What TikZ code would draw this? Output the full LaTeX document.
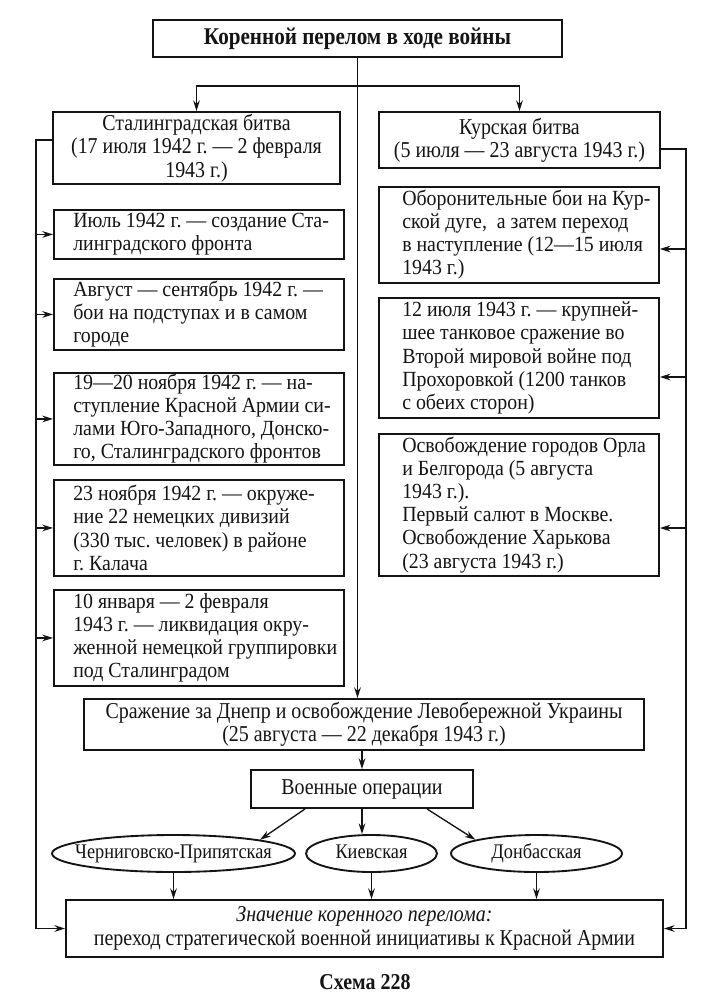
\documentclass[tikz,border=0pt]{standalone}
\usepackage{fontspec}
\setmainfont{Liberation Serif}[FakeStretch=0.88]
\newfontfamily\boxfont{Liberation Serif}[FakeStretch=0.92]
\usetikzlibrary{arrows.meta,shapes.geometric}
\frenchspacing

\def\U{0.75pt}
\definecolor{fgcolor}{gray}{0.08}
\definecolor{bgcolor}{gray}{1}

\tikzset{
  evtext/.style={text=fgcolor,inner sep=0pt,font=\boxfont\fontsize{16.2}{17.3}\selectfont},
  bigtext/.style={text=fgcolor,inner sep=0pt,font=\fontsize{17}{17.5}\selectfont},
  frame/.style={draw=fgcolor,line width=1.4pt,inner sep=0pt},
  evbox/.style={bigtext,frame,align=center},
  leftbox/.style={frame,anchor=north west,minimum width=290*\U},
  rightbox/.style={frame,anchor=north west,minimum width=280*\U},
  boxtext/.style={evtext,align=left,anchor=west},
  opbox/.style={frame,ellipse,minimum height=37*\U,
    label={[bigtext,font=\fontsize{15.6}{16}\selectfont,text height=11pt,text depth=3pt]center:#1}},
  arr/.style={draw=fgcolor,line width=1pt,-{Stealth[length=8pt,width=5pt]}}
}

\begin{document}
\begin{tikzpicture}[x=\U,y=-\U]
\fill[bgcolor] (0,0) rectangle (716,997);

\node[evbox,minimum width=409*\U,minimum height=37*\U,
  font=\fontsize{18}{18}\selectfont\bfseries] (title) at (357.5,38.5) {Коренной перелом в ходе войны};

\node[evbox,minimum width=287*\U,minimum height=72*\U] (stal) at (196.5,148)
  {Сталинградская битва\\(17 июля 1942 г. — 2 февраля\\1943 г.)};
\node[evbox,minimum width=281*\U,minimum height=56*\U] (kursk) at (519.5,140)
  {Курская битва\\(5 июля — 23 августа 1943 г.)};

% Stalingrad column
\node[leftbox,minimum height=49*\U] (s1) at (53,209) {};
\node[leftbox,minimum height=71*\U] (s2) at (53,278) {};
\node[leftbox,minimum height=92*\U] (s3) at (53,372) {};
\node[leftbox,minimum height=96*\U] (s4) at (53,479) {};
\node[leftbox,minimum height=96*\U] (s5) at (53,589) {};
\node[boxtext] (s1t) at ([xshift=20*\U]s1.west)
  {Июль 1942 г. — создание Ста-\\линградского фронта};
\node[boxtext] (s2t) at ([xshift=20*\U]s2.west)
  {Август — сентябрь 1942 г. —\\бои на подступах и в самом\\городе};
\node[boxtext] (s3t) at ([xshift=20*\U]s3.west)
  {19—20 ноября 1942 г. — на-\\ступление Красной Армии си-\\лами Юго-Западного, Донско-\\го, Сталинградского фронтов};
\node[boxtext] (s4t) at ([xshift=20*\U]s4.west)
  {23 ноября 1942 г. — окруже-\\ние 22 немецких дивизий\\(330 тыс. человек) в районе\\г. Калача};
\node[boxtext] (s5t) at ([xshift=20*\U]s5.west)
  {10 января — 2 февраля\\1943 г. — ликвидация окру-\\женной немецкой группировки\\под Сталинградом};

% Kursk column
\node[rightbox,minimum height=96*\U] (k1) at (378,186) {};
\node[rightbox,minimum height=120*\U] (k2) at (378,297) {};
\node[rightbox,minimum height=142*\U] (k3) at (378,433) {};
\node[boxtext] (k1t) at ([xshift=24*\U]k1.west)
  {Оборонительные бои на Кур-\\ской дуге,\ \ а затем переход\\в наступление (12—15 июля\\1943 г.)};
\node[boxtext] (k2t) at ([xshift=24*\U]k2.west)
  {12 июля 1943 г. — крупней-\\шее танковое сражение во\\Второй мировой войне под\\Прохоровкой (1200 танков\\с обеих сторон)};
\node[boxtext] (k3t) at ([xshift=24*\U]k3.west)
  {Освобождение городов Орла\\и Белгорода (5 августа\\1943 г.).\\Первый салют в Москве.\\Освобождение Харькова\\(23 августа 1943 г.)};

\node[evbox,minimum width=560*\U,minimum height=51*\U] (dnepr) at (364,724.5)
  {Сражение за Днепр и освобождение Левобережной Украины\\(25 августа — 22 декабря 1943 г.)};
\node[evbox,minimum width=222*\U,minimum height=38*\U] (ops) at (362,789) {Военные операции};

\node[opbox=Черниговско-Припятская,minimum width=243*\U] (e1) at (173.5,853.5) {};
\node[opbox=Киевская,minimum width=131*\U] (e2) at (371.5,853.5) {};
\node[opbox=Донбасская,minimum width=171*\U] (e3) at (536.5,853.5) {};

\node[evbox,minimum width=597*\U,minimum height=57*\U] (goal) at (364.5,928.5)
  {\textit{Значение коренного перелома:}\\переход стратегической военной инициативы к Красной Армии};

\node[bigtext,font=\fontsize{17}{17}\selectfont\bfseries] (cap) at (365,982) {Схема 228};

\coordinate (split) at (357.5,86);
\coordinate (lt) at (36,140);
\coordinate (rt) at (686,149);

\draw[arr] (title.south) -- (title.south |- dnepr.north);
\draw[arr] (split) -| (stal.north);
\draw[arr] (split) -| (kursk.north);

\draw[arr] (stal.west |- lt) -- (lt) |- (goal.west);
\foreach \b in {s1,s2,s3,s4,s5}
  \draw[arr] (lt |- \b.west) -- (\b.west);

\draw[arr] (kursk.east |- rt) -- (rt) |- (goal.east);
\foreach \b/\y in {k1/249,k2/377,k3/528}
  \draw[arr] (rt |- 0,\y) -- (\b.east |- 0,\y);

\draw[arr] (ops.south |- dnepr.south) -- (ops.north);
\draw[arr] ([xshift=-57*\U]ops.south) -- (e1.north east);
\draw[arr] (ops.south) -- (ops.south |- e2.north);
\draw[arr] ([xshift=65*\U]ops.south) -- (e3.north west);
\foreach \e in {e1,e2,e3}
  \draw[arr] (\e.south) -- (\e.south |- goal.north);
\end{tikzpicture}
\end{document}
